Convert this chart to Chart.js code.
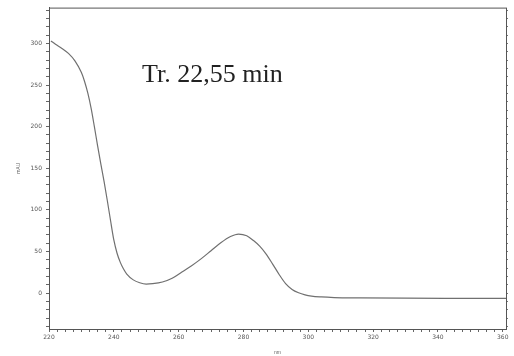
<!DOCTYPE html>
<html>
<head>
<meta charset="utf-8">
<script src="https://cdn.jsdelivr.net/npm/chart.js@4"></script>
<style>
  body { margin: 0; background: #fff; }
  #wrap { position: relative; width: 514px; height: 356px; }
  #note { position: absolute; left: 142px; top: 61px; font: 26px/26px "Liberation Serif", "Times New Roman", serif; color: #222; white-space: nowrap; }
</style>
</head>
<body>
<div id="wrap">
  <canvas id="spectrum" width="514" height="356"></canvas>
  <div id="note">Tr. 22,55 min</div>
</div>
<script>
// wavelength (nm) and absorbance (mAU)
let wavelength = [220.6, 222, 224, 226, 228, 230, 231, 232, 233, 234, 235, 236, 237, 238, 239, 240,
  241, 242, 243, 244, 246, 248, 250, 252, 255, 258, 261, 264, 267, 270, 273, 276, 278.5, 281, 283,
  285, 287, 289, 291, 293, 295, 297, 299, 301, 304, 308, 316, 330, 345, 361];
let absorbance = [303, 299, 294, 288, 279, 265, 254, 240, 222, 200, 177, 155, 134, 111, 87, 64,
  48, 37, 29, 23, 16, 12.5, 11, 11.5, 13.5, 18, 25.5, 33, 41.5, 51, 60.5, 68, 71, 69, 63.5,
  56.5, 47, 35, 22.5, 11.5, 4.5, 0.5, -2, -3.5, -4.5, -5.2, -5.6, -6, -6.2, -6.3];

let xMin = 220, xMax = 361;
let yMin = -43, yMax = 343;

let points = [];
for (let i = 0; i < wavelength.length; i++) {
    points.push({x: wavelength[i], y: absorbance[i]});
}

// frame round the plot area
const frame = {
    id: 'frame',
    afterDraw(chart) {
        const a = chart.chartArea, c = chart.ctx;
        c.save();
        c.strokeStyle = '#555';
        c.lineWidth = 1;
        c.strokeRect(a.left + 0.5, a.top + 0.5, a.right - a.left, a.bottom - a.top);
        c.restore();
    }
};

new Chart(document.getElementById('spectrum'), {
    type: 'line',
    data: {
        datasets: [{
            data: points,
            borderColor: '#707070',
            borderWidth: 1.2,
            pointRadius: 0,
            cubicInterpolationMode: 'monotone',
            fill: false
        }]
    },
    options: {
        responsive: false,
        animation: false,
        layout: { padding: { top: 4, right: 6, left: 0, bottom: 0 } },
        plugins: { legend: { display: false }, tooltip: { enabled: false } },
        scales: {
            x: {
                type: 'linear',
                min: xMin,
                max: xMax,
                afterFit: s => { s.height = 27; },
                grid: { drawOnChartArea: false, tickLength: 3, color: '#666' },
                border: { color: '#555' },
                ticks: {
                    stepSize: 2.5,
                    includeBounds: false,
                    autoSkip: false,
                    maxRotation: 0,
                    padding: 2,
                    color: '#555',
                    font: { size: 6, family: 'DejaVu Sans' },
                    callback: v => (v % 20 === 0 ? v : '')
                },
                title: { display: true, text: 'nm', color: '#666', font: { size: 5 }, padding: 0 }
            },
            y: {
                min: yMin,
                max: yMax,
                afterFit: s => { s.width = 49; },
                grid: { drawOnChartArea: false, tickLength: 3, color: '#666' },
                border: { color: '#555' },
                ticks: {
                    stepSize: 10,
                    includeBounds: false,
                    autoSkip: false,
                    padding: 4,
                    color: '#555',
                    font: { size: 6, family: 'DejaVu Sans' },
                    callback: v => (v % 50 === 0 ? v : '')
                },
                title: { display: true, text: 'mAU', color: '#666', font: { size: 5 }, padding: { top: 16, bottom: 0 } }
            },
            yRight: {
                position: 'right',
                min: yMin,
                max: yMax,
                afterFit: s => { s.width = 2; },
                grid: { drawOnChartArea: false, tickLength: 2, color: '#777' },
                border: { display: false },
                ticks: { stepSize: 10, includeBounds: false, display: false }
            }
        }
    },
    plugins: [frame]
});
</script>
</body>
</html>
